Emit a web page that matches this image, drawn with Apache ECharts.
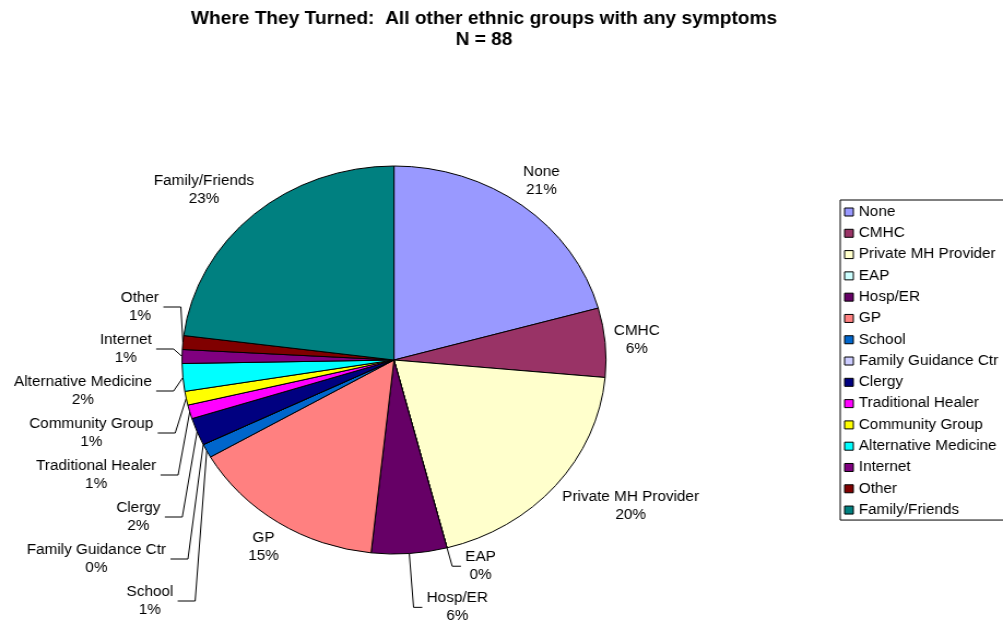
<!DOCTYPE html>
<html>
<head>
<meta charset="utf-8">
<script src="https://cdn.jsdelivr.net/npm/echarts@6/dist/echarts.min.js"></script>
<style>
html,body{margin:0;padding:0;background:#fff;overflow:hidden;}
#wrap{width:1003px;height:622px;overflow:hidden;}
/* the original picture is stretched horizontally (pie is an ellipse) */
#chart{width:918px;height:622px;transform:scaleX(1.0926);transform-origin:0 0;}
</style>
</head>
<body>
<div id="wrap"><div id="chart"></div></div>
<script>
// ---- data ----
const categories = ["None","CMHC","Private MH Provider","EAP","Hosp/ER","GP","School","Family Guidance Ctr","Clergy","Traditional Healer","Community Group","Alternative Medicine","Internet","Other","Family/Friends"];
const counts = [18,5,17,0,5,13,1,0,2,1,1,2,1,1,20];
const colors = ["#9999FF","#993366","#FFFFCC","#CCFFFF","#660066","#FF8080","#0066CC","#CCCCFF","#000080","#FF00FF","#FFFF00","#00FFFF","#800080","#800000","#008080"];
const titleText = "Where They Turned:  All other ethnic groups with any symptoms";
const subText = "N = 88";

// ---- label styling groups (not data) ----
// labels drawn next to the slice without a leader line (Excel style)
const freeLabels = ["None","CMHC","Private MH Provider","GP","Family/Friends"];
// bottom labels with individual leader lines
const bottomLabels = ["EAP","Hosp/ER"];
const bottomLineLen = {"EAP":[19,8], "Hosp/ER":[54,8]};

const FONT = 'Liberation Sans, Arial, sans-serif';
const chart = echarts.init(document.getElementById('chart'), null, {renderer:'canvas'});

const labelBase = {
  formatter:'{t|{b}}\n{t|{d}%}',
  fontFamily:FONT, fontSize:14, color:'#000', lineHeight:18,
  rich:{t:{fontFamily:FONT, fontSize:14, color:'#000', lineHeight:18, align:'center'}}
};

function excelLayout(params){
  // place the label box just outside the slice edge, facing the centre
  const data = chart.getModel().getSeriesByIndex(1).getData();
  const lay = data.getItemLayout(params.dataIndex);
  if (!lay) return {};
  const mid = (lay.startAngle + lay.endAngle) / 2;
  const ux = Math.cos(mid), uy = Math.sin(mid);
  const m = Math.max(Math.abs(ux), Math.abs(uy));
  const gap = 8;
  const px = lay.cx + (lay.r + gap) * ux;
  const py = lay.cy + (lay.r + gap) * uy;
  const w = params.labelRect.width, h = params.labelRect.height;
  return {
    x: px + w / 2 * ux / m,
    y: py + h / 2 * uy / m,
    align:'center',
    verticalAlign:'middle'
  };
}

const pieBase = {
  type:'pie',
  center:[360.6,360],
  radius:194,
  startAngle:90,
  clockwise:true,
  percentPrecision:0,
  emphasis:{disabled:true}
};

const option = {
  animation:false,
  backgroundColor:'#fff',
  color: colors,
  title:{
    text: titleText + '\n' + subText,
    left: 443,
    top: 8,
    padding:0,
    textAlign:'center',
    textStyle:{fontFamily:FONT, fontWeight:'bold', fontSize:17.5, lineHeight:21.5, color:'#000'}
  },
  legend:{
    orient:'vertical',
    left: 769,
    top: 200,
    data: categories,
    icon:'rect',
    itemWidth:8,
    itemHeight:8,
    itemGap:7.29,
    padding:[5,60,3,3.5],
    borderColor:'#000',
    borderWidth:1,
    selectedMode:false,
    textStyle:{fontFamily:FONT, fontSize:14, color:'#000', lineHeight:14},
    itemStyle:{borderColor:'#000', borderWidth:1}
  },
  series:[
    Object.assign({}, pieBase, {
      avoidLabelOverlap:true,
      data: categories.map((c,i)=>{
        const show = freeLabels.indexOf(c) < 0 && bottomLabels.indexOf(c) < 0;
        return {name:c, value:counts[i], label:{show:show}, labelLine:{show:show}};
      }),
      itemStyle:{borderColor:'#000', borderWidth:1},
      label:Object.assign({show:true, position:'outside', padding:[2,0,2,0], distanceToLabelLine:4}, labelBase),
      labelLine:{show:true, length:12, length2:16, lineStyle:{color:'#000', width:1}}
    }),
    Object.assign({}, pieBase, {
      silent:true,
      avoidLabelOverlap:false,
      data: categories.map((c,i)=>({name:c, value:counts[i], label:{show: freeLabels.indexOf(c) >= 0}})),
      itemStyle:{color:'rgba(0,0,0,0)', borderWidth:0},
      label:Object.assign({show:true, position:'outside'}, labelBase),
      labelLine:{show:false, length:10, length2:0},
      labelLayout: excelLayout
    }),
    Object.assign({}, pieBase, {
      silent:true,
      avoidLabelOverlap:false,
      data: categories.map((c,i)=>{
        const show = bottomLabels.indexOf(c) >= 0;
        const len = bottomLineLen[c] || [12,8];
        return {name:c, value:counts[i], label:{show:show}, labelLine:{show:show, length:len[0], length2:len[1]}};
      }),
      itemStyle:{color:'rgba(0,0,0,0)', borderWidth:0},
      label:Object.assign({show:true, position:'outside', distanceToLabelLine:4}, labelBase),
      labelLine:{show:true, lineStyle:{color:'#000', width:1}}
    })
  ]
};
chart.setOption(option);
</script>
</body>
</html>
